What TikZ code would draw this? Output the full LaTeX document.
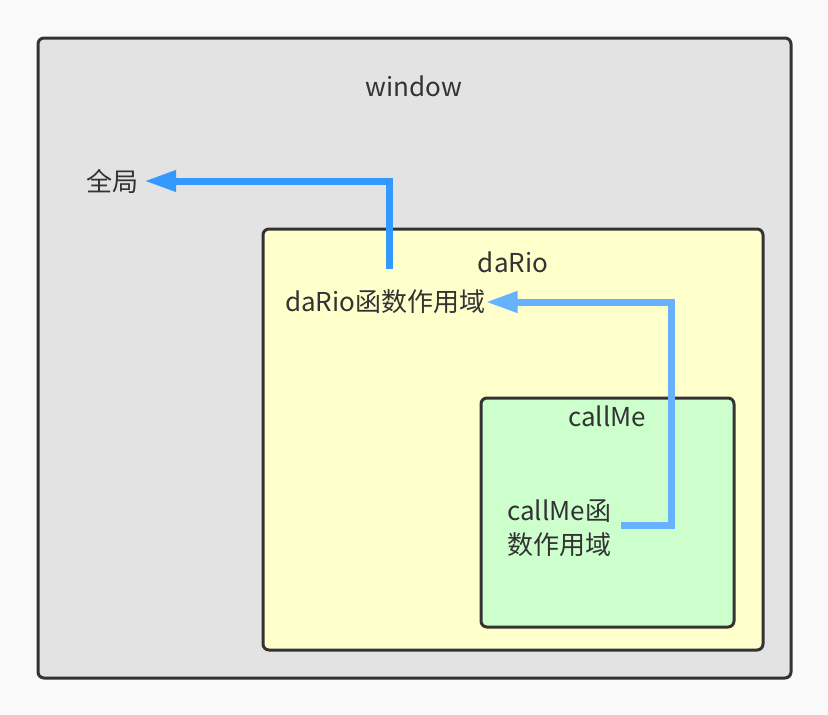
\documentclass[tikz,border=0pt]{standalone}
\usepackage{fontspec}
\newfontfamily\cjk{Noto Sans CJK SC}
\usepackage{xcolor}
\usetikzlibrary{arrows.meta}
\definecolor{canvas}{HTML}{F9F9F9}
\definecolor{ink}{HTML}{333333}
\definecolor{windowfill}{HTML}{E3E3E3}
\definecolor{dariofill}{HTML}{FFFFCC}
\definecolor{callmefill}{HTML}{CCFFCC}
\definecolor{chainblue}{HTML}{3399FF}
\definecolor{chainlight}{HTML}{66B2FF}
\tikzset{
	scopebox/.style={
			draw=ink, line width=3pt, rounded corners=6pt, inner sep=0pt
		},
	scopetext/.style={
			text=ink, font=\cjk\fontsize{26}{34}\selectfont, inner sep=4pt
		},
	chain/.style={
			line width=7pt, -{Triangle[length=32pt,width=20pt]}
		}
}

\begin{document}
\begin{tikzpicture}[x=1pt, y=-1pt]
			\fill[canvas] (0,0) rectangle (828,715);
			\useasboundingbox (0,0) rectangle (828,715);

			% scopes
			\node[scopebox, fill=windowfill, minimum width=753pt, minimum height=640pt] (window) at (414.5,358) {};
			\node[scopebox, fill=dariofill, minimum width=500pt, minimum height=421pt] (dario) at (513,439.5) {};
			\node[scopebox, fill=callmefill, minimum width=253pt, minimum height=229pt] (callme) at (607.5,512.5) {};

			\node[scopetext] (windowname) at (414,86) {window};
			\node[scopetext] (darioname) at (513,262) {daRio};
			\node[scopetext] (callmename) at (607,416) {callMe};

			\node[scopetext, inner sep=6pt] (global) at (112,181) {全局};
			\node[scopetext, anchor=west, inner sep=0pt] (dariotext) at (285,302) {daRio函数作用域};
			\node[scopetext, anchor=west, align=left, inner sep=0pt] (callmetext) at (507,528) {callMe函\\数作用域};

			% lookup chain
			\coordinate (dariostart) at (389,269);
			\coordinate (callmeturn) at (671,525);
			\draw[chain, chainblue] (dariostart) |- (global.east);
			\draw[chain, chainlight] (callmetext.east |- callmeturn) ++(10,0) -- (callmeturn) |- (dariotext.east);
		\end{tikzpicture}
\end{document}
